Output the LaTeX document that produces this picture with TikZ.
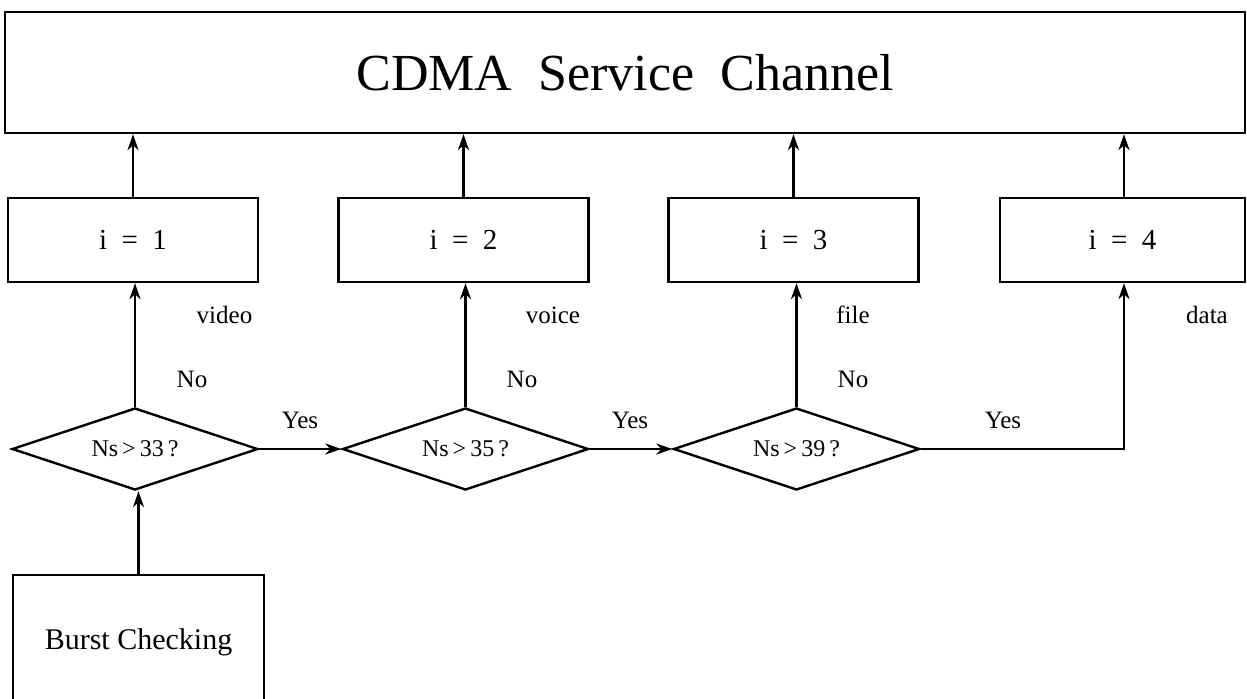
\documentclass[tikz,border=0pt]{standalone}
\usepackage{fontspec}
\setmainfont{Liberation Serif}
\usetikzlibrary{shapes.geometric,arrows.meta}
\begin{document}
\begin{tikzpicture}[x=0.5pt,y=-0.5pt,
  box/.style={draw,line width=1.2pt,rectangle,inner sep=0pt},
  ibox/.style={box,minimum width=125pt,minimum height=42pt,font=\fontsize{14.5}{16}\selectfont},
  dec/.style={draw,line width=1.2pt,diamond,aspect=3,inner sep=0pt,minimum width=123pt,minimum height=41pt,font=\fontsize{12}{14}\selectfont},
  arr/.style={line width=1.1pt,-{Stealth[length=8pt,width=5.5pt,inset=2.5pt]}},
  lbl/.style={font=\fontsize{12.5}{15}\selectfont,inner sep=0pt,anchor=base}]
\clip (0,0) rectangle (1247,698);
\node[box,minimum width=620pt,minimum height=60.5pt,font=\fontsize{26}{30}\selectfont] (top) at (625,72.5) {CDMA\hspace{0.5em}Service\hspace{0.5em}Channel};
\node[ibox] (b1) at (133,240) {i\hspace{0.5em}=\hspace{0.5em}1};
\node[ibox] (b2) at (463.5,240) {i\hspace{0.5em}=\hspace{0.5em}2};
\node[ibox] (b3) at (793.5,240) {i\hspace{0.5em}=\hspace{0.5em}3};
\node[ibox,minimum width=122.5pt] (b4) at (1122.5,240) {i\hspace{0.5em}=\hspace{0.5em}4};
\node[dec] (d1) at (135,449) {Ns\,>\,33\,?};
\node[dec] (d2) at (465.5,449) {Ns\,>\,35\,?};
\node[dec] (d3) at (796.5,449) {Ns\,>\,39\,?};
\node[box,minimum width=125.5pt,minimum height=67.5pt,font=\fontsize{15}{18}\selectfont] (burst) at (138.5,642.5) {Burst Checking};
% arrows to top box
\draw[arr] (b1.north) -- (b1.north |- top.south);
\draw[arr] (b2.north) -- (b2.north |- top.south);
\draw[arr] (b3.north) -- (b3.north |- top.south);
\draw[arr] ([xshift=0.75pt]b4.north) -- ([xshift=0.75pt]b4.north |- top.south);
% No arrows
\draw[arr] (d1.north) -- (d1.north |- b1.south);
\draw[arr] (d2.north) -- (d2.north |- b2.south);
\draw[arr] (d3.north) -- (d3.north |- b3.south);
% Yes arrows
\draw[arr] (d1.east) -- (d2.west);
\draw[arr] (d2.east) -- (d3.west);
\draw[arr] (d3.east) -| ([xshift=0.75pt]b4.south);
% burst
\draw[arr] (burst.north) -- (burst.north |- d1.south);
% labels
\node[lbl] (l1) at (224.5,323) {video};
\node[lbl] (l2) at (553,323) {voice};
\node[lbl] (l3) at (853,323) {file};
\node[lbl] (l4) at (1207,323) {data};
\node[lbl] (n1) at (192,387) {No};
\node[lbl] (n2) at (522,387) {No};
\node[lbl] (n3) at (853,387) {No};
\node[lbl] (y1) at (300,428) {Yes};
\node[lbl] (y2) at (630,428) {Yes};
\node[lbl] (y3) at (1003,428) {Yes};
\end{tikzpicture}
\end{document}
